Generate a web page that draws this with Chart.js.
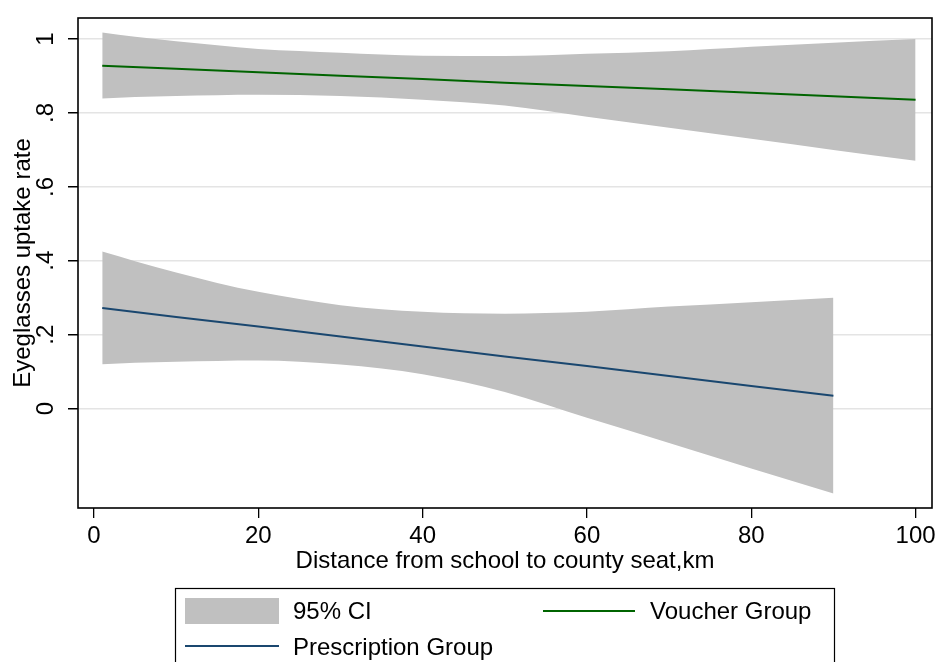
<!DOCTYPE html>
<html lang="en">
<head>
    <meta charset="UTF-8">
    <title>Eyeglasses uptake by distance</title>
    <script src="https://cdn.jsdelivr.net/npm/chart.js@4.4.1/dist/chart.umd.min.js"></script>
    <style>
        html, body { margin: 0; padding: 0; background: #fff; }
        #wrap { width: 938px; height: 662px; position: relative; }
    </style>
</head>
<body>
    <div id="wrap"><canvas id="chart"></canvas></div>

    <script>
        // Data
        const voucherX = [1, 10, 20, 30, 40, 50, 60, 70, 80, 90, 100];
        const voucherFit = [0.928, 0.920, 0.910, 0.901, 0.892, 0.882, 0.873, 0.864, 0.855, 0.845, 0.836];
        const voucherBandX = [1, 5, 10, 15, 20, 30, 40, 50, 60, 70, 80, 90, 100];
        const voucherUpper = [1.018, 1.006, 0.994, 0.983, 0.973, 0.963, 0.955, 0.954, 0.960, 0.967, 0.979, 0.990, 1.000];
        const voucherLower = [0.839, 0.843, 0.846, 0.848, 0.849, 0.846, 0.836, 0.820, 0.790, 0.760, 0.730, 0.700, 0.671];

        const prescriptionX = [1, 10, 20, 30, 40, 50, 60, 70, 80, 90];
        const prescriptionFit = [0.272, 0.248, 0.222, 0.195, 0.168, 0.141, 0.115, 0.088, 0.061, 0.035];
        const prescriptionBandX = [1, 5, 10, 15, 20, 30, 40, 50, 60, 70, 80, 90];
        const prescriptionUpper = [0.425, 0.399, 0.368, 0.340, 0.316, 0.280, 0.262, 0.257, 0.262, 0.276, 0.288, 0.300];
        const prescriptionLower = [0.120, 0.124, 0.127, 0.129, 0.130, 0.119, 0.093, 0.045, -0.025, -0.093, -0.162, -0.230];

        const xTickValues = [0, 20, 40, 60, 80, 100];
        const yTickValues = [0, 0.2, 0.4, 0.6, 0.8, 1];
        const yTickLabels = ['0', '.2', '.4', '.6', '.8', '1'];
        const legendLabels = ['95% CI', 'Voucher Group', 'Prescription Group'];

        const bandColor = '#c0c0c0';
        const voucherColor = '#006400';
        const prescriptionColor = '#1a476f';
        const font = { family: '"Liberation Sans", Arial, Helvetica, sans-serif', size: 24 };

        const pts = (xs, ys) => xs.map((x, i) => ({ x: x, y: ys[i] }));

        // frame round the plot + stata style legend box under the chart
        const frameLegend = {
            id: 'frameLegend',
            afterDraw(chart) {
                const { ctx, chartArea: a } = chart;
                ctx.save();
                ctx.strokeStyle = '#000';
                ctx.lineWidth = 1.6;
                ctx.strokeRect(a.left, a.top, a.right - a.left, a.bottom - a.top);

                ctx.lineWidth = 1.2;
                ctx.strokeRect(175.5, 588.5, 659, 100);

                ctx.font = font.size + 'px ' + font.family;
                ctx.fillStyle = '#000';
                ctx.textBaseline = 'middle';
                ctx.textAlign = 'left';

                // 95% CI swatch
                ctx.fillStyle = bandColor;
                ctx.fillRect(185, 598, 94, 26);
                ctx.fillStyle = '#000';
                ctx.fillText(legendLabels[0], 293, 612);

                // voucher line
                ctx.strokeStyle = voucherColor;
                ctx.lineWidth = 2;
                ctx.beginPath(); ctx.moveTo(543, 611); ctx.lineTo(635, 611); ctx.stroke();
                ctx.fillText(legendLabels[1], 650, 612);

                // prescription line
                ctx.strokeStyle = prescriptionColor;
                ctx.beginPath(); ctx.moveTo(185, 646); ctx.lineTo(279, 646); ctx.stroke();
                ctx.fillText(legendLabels[2], 293, 648);
                ctx.restore();
            }
        };

        const bandStyle = { borderWidth: 0, pointRadius: 0, backgroundColor: bandColor, cubicInterpolationMode: 'monotone', order: 2 };
        const lineStyle = { borderWidth: 2, pointRadius: 0, fill: false, tension: 0, order: 0 };

        new Chart(document.getElementById('chart'), {
            type: 'line',
            data: {
                datasets: [
                    { label: 'Voucher lower', data: pts(voucherBandX, voucherLower), fill: false, ...bandStyle },
                    { label: '95% CI', data: pts(voucherBandX, voucherUpper), fill: 0, ...bandStyle },
                    { label: 'Prescription lower', data: pts(prescriptionBandX, prescriptionLower), fill: false, ...bandStyle },
                    { label: '95% CI', data: pts(prescriptionBandX, prescriptionUpper), fill: 2, ...bandStyle },
                    { label: 'Voucher Group', data: pts(voucherX, voucherFit), borderColor: voucherColor, ...lineStyle },
                    { label: 'Prescription Group', data: pts(prescriptionX, prescriptionFit), borderColor: prescriptionColor, ...lineStyle }
                ]
            },
            options: {
                responsive: true,
                maintainAspectRatio: false,
                animation: false,
                events: [],
                layout: { padding: { left: 0, top: 18, right: 6, bottom: 84 } },
                plugins: { legend: { display: false }, tooltip: { enabled: false } },
                scales: {
                    x: {
                        type: 'linear',
                        min: -1.95,
                        max: 102,
                        afterBuildTicks: s => { s.ticks = xTickValues.map(v => ({ value: v })); },
                        afterFit: s => { s.height = 70; s.paddingLeft = 0; s.paddingRight = 0; },
                        ticks: { color: '#000', font: font, padding: 4, maxRotation: 0 },
                        grid: { drawOnChartArea: false, tickLength: 10, tickColor: '#000', lineWidth: 1.3 },
                        border: { display: false },
                        title: { display: true, text: 'Distance from school to county seat,km', color: '#000', font: font, padding: { top: 0, bottom: 2 } }
                    },
                    y: {
                        type: 'linear',
                        min: -0.269,
                        max: 1.057,
                        afterBuildTicks: s => { s.ticks = yTickValues.map(v => ({ value: v })); },
                        afterFit: s => { s.width = 78; s.paddingTop = 0; s.paddingBottom = 0; },
                        ticks: {
                            color: '#000', font: font, padding: 12,
                            minRotation: 90, maxRotation: 90, crossAlign: 'center',
                            callback: (v, i) => yTickLabels[i]
                        },
                        grid: { color: '#e4e4e4', lineWidth: 1.5, tickLength: 10, tickColor: '#000' },
                        border: { display: false },
                        title: { display: true, text: 'Eyeglasses uptake rate', color: '#000', font: font, padding: { top: 9, bottom: 0 } }
                    }
                }
            },
            plugins: [frameLegend]
        });
    </script>
</body>
</html>
